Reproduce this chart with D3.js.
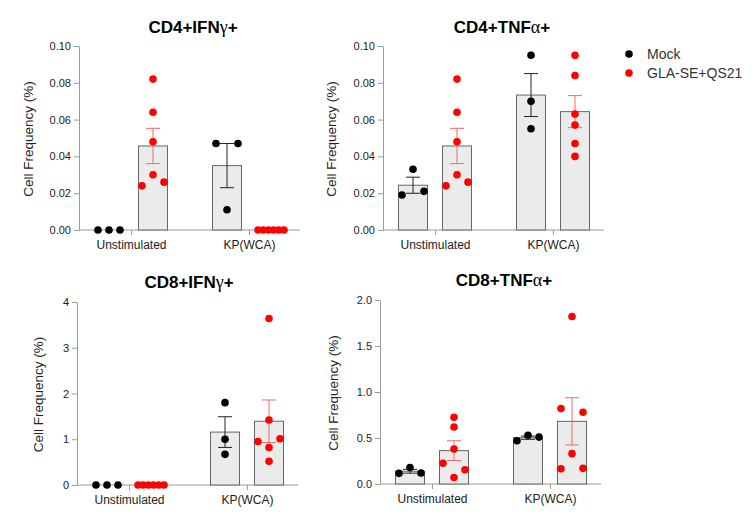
<!DOCTYPE html>
<html><head><meta charset="utf-8">
<script src="https://cdn.jsdelivr.net/npm/d3@7"></script>
<style>body{margin:0;background:#fff}svg{font-family:"Liberation Sans",Arial,sans-serif}</style>
</head><body><svg id="c" width="755" height="525"></svg>
<script>
const categories = ["Unstimulated", "KP(WCA)"];
const groups = ["Mock", "GLA-SE+QS21"];
// values per category: [Unstimulated, KP(WCA)]
const cd4IfngMock = [[0, 0, 0], [0.047, 0.047, 0.011]];
const cd4IfngGla  = [[0.082, 0.064, 0.048, 0.030, 0.024, 0.026], [0, 0, 0, 0, 0, 0]];
const cd4TnfaMock = [[0.019, 0.033, 0.021], [0.095, 0.070, 0.055]];
const cd4TnfaGla  = [[0.082, 0.064, 0.048, 0.030, 0.024, 0.026], [0.095, 0.084, 0.063, 0.057, 0.047, 0.040]];
const cd8IfngMock = [[0, 0, 0], [1.80, 1.00, 0.67]];
const cd8IfngGla  = [[0, 0, 0, 0, 0, 0], [3.64, 1.42, 0.95, 1.01, 0.82, 0.52]];
const cd8TnfaMock = [[0.116, 0.18, 0.12], [0.47, 0.53, 0.51]];
const cd8TnfaGla  = [[0.725, 0.62, 0.38, 0.225, 0.155, 0.07], [1.82, 0.82, 0.78, 0.33, 0.165, 0.17]];
const ticksCd4 = [0, 0.02, 0.04, 0.06, 0.08, 0.10];
const ticksCd8Ifng = [0, 1, 2, 3, 4];
const ticksCd8Tnfa = [0, 0.5, 1.0, 1.5, 2.0];
const titles = [["CD4+IFN", "γ", "+"], ["CD4+TNF", "α", "+"], ["CD8+IFN", "γ", "+"], ["CD8+TNF", "α", "+"]];

const colors = {"Mock": "#000000", "GLA-SE+QS21": "#ff0000"};
const errColors = {"Mock": "#222222", "GLA-SE+QS21": "#ee6a6a"};

const panels = [
  {t: titles[0], mock: cd4IfngMock, gla: cd4IfngGla, max: 0.1, ticks: ticksCd4, fmt: ".2f", x0: 79, yTop: 46, yBot: 230, labelX: 33, titleX: 193, titleY: 33},
  {t: titles[1], mock: cd4TnfaMock, gla: cd4TnfaGla, max: 0.1, ticks: ticksCd4, fmt: ".2f", x0: 383, yTop: 46, yBot: 230, labelX: 336, titleX: 502, titleY: 33},
  {t: titles[2], mock: cd8IfngMock, gla: cd8IfngGla, max: 4, ticks: ticksCd8Ifng, fmt: "d", x0: 77, yTop: 302, yBot: 485, labelX: 43, titleX: 189, titleY: 288},
  {t: titles[3], mock: cd8TnfaMock, gla: cd8TnfaGla, max: 2, ticks: ticksCd8Tnfa, fmt: ".1f", x0: 380, yTop: 300, yBot: 484, labelX: 338, titleX: 504, titleY: 286}
];

const svg = d3.select("#c");
const R = 3.8;

function scatterOffsets(vals, y) {
  const idx = vals.map((v, i) => i).sort((a, b) => vals[b] - vals[a] || a - b);
  const rows = [];
  let cur = null;
  idx.forEach(i => {
    const py = y(vals[i]);
    if (cur && Math.abs(py - cur.p) < 7.1) cur.m.push(i);
    else { cur = {p: py, m: [i]}; rows.push(cur); }
  });
  const off = [];
  rows.forEach(r => {
    r.m.sort((a, b) => a - b);
    const n = r.m.length;
    let o;
    if (n === 1) o = [0];
    else if (n === 2) o = [-11, 11];
    else { const s = Math.min(11, 26 / (n - 1)); o = r.m.map((_, k) => (k - (n - 1) / 2) * s); }
    r.m.forEach((i, k) => off[i] = o[k]);
  });
  return off;
}

panels.forEach(p => {
  const g = svg.append("g");
  const y = d3.scaleLinear().domain([0, p.max]).range([p.yBot, p.yTop]);
  const x = d3.scalePoint().domain(categories).range([p.x0 + 52, p.x0 + 170]);
  const sub = d3.scalePoint().domain(groups).range([-22, 22]);
  const bw = 29;

  // y axis
  const ya = g.append("g").attr("transform", `translate(${p.x0},0)`)
    .call(d3.axisLeft(y).tickValues(p.ticks).tickFormat(d3.format(p.fmt)).tickSize(5).tickSizeOuter(0).tickPadding(3));
  ya.select(".domain").attr("stroke", "#9a9a9a");
  ya.selectAll(".tick line").attr("stroke", "#9a9a9a");
  ya.selectAll(".tick text").attr("font-size", 11).attr("fill", "#222").attr("font-family", "Liberation Sans, Arial");

  // x axis
  const xa = g.append("g").attr("transform", `translate(0,${p.yBot})`)
    .call(d3.axisBottom(x).tickSize(5).tickSizeOuter(0).tickPadding(5));
  xa.select(".domain").remove();
  xa.selectAll(".tick line").attr("stroke", "#9a9a9a");
  xa.selectAll(".tick text").attr("font-size", 12).attr("fill", "#222").attr("font-family", "Liberation Sans, Arial");
  g.append("line").attr("x1", p.x0).attr("x2", p.x0 + 221).attr("y1", p.yBot).attr("y2", p.yBot)
    .attr("stroke", "#9a9a9a");

  const series = [];
  categories.forEach((c, ci) => {
    series.push({c, grp: "Mock", vals: p.mock[ci]});
    series.push({c, grp: "GLA-SE+QS21", vals: p.gla[ci]});
  });

  series.forEach(s => {
    const cx = x(s.c) + sub(s.grp);
    const m = d3.mean(s.vals);
    const sem = (d3.deviation(s.vals) || 0) / Math.sqrt(s.vals.length);
    if (m > 0) {
      g.append("rect").attr("x", cx - bw / 2).attr("y", y(m)).attr("width", bw).attr("height", y(0) - y(m))
        .attr("fill", "#ebebeb").attr("stroke", "#666").attr("stroke-width", 1);
    }
    if (sem > 0) {
      const ec = errColors[s.grp];
      g.append("line").attr("x1", cx).attr("x2", cx).attr("y1", y(m - sem)).attr("y2", y(m + sem)).attr("stroke", ec);
      [m - sem, m + sem].forEach(v => {
        g.append("line").attr("x1", cx - 7).attr("x2", cx + 7).attr("y1", y(v)).attr("y2", y(v)).attr("stroke", ec);
      });
    }
    const off = scatterOffsets(s.vals, y);
    g.selectAll(null).data(s.vals).enter().append("circle")
      .attr("cx", (d, i) => cx + off[i]).attr("cy", d => y(d)).attr("r", R)
      .attr("fill", colors[s.grp]);
  });

  // y label
  g.append("text").attr("transform", `translate(${p.labelX},${(p.yTop + p.yBot) / 2 + 1}) rotate(-90)`)
    .attr("text-anchor", "middle").attr("font-size", 13.5).attr("fill", "#222").text("Cell Frequency (%)");

  // title
  const tt = g.append("text").attr("x", p.titleX).attr("y", p.titleY).attr("text-anchor", "middle")
    .attr("font-size", 17).attr("font-weight", "bold").attr("fill", "#000");
  tt.append("tspan").text(p.t[0]);
  tt.append("tspan").attr("font-weight", "normal").attr("font-family", "Liberation Serif, serif").attr("font-size", 18).text(p.t[1]);
  tt.append("tspan").text(p.t[2]);
});

// legend
const lg = svg.append("g");
groups.forEach((grp, i) => {
  lg.append("circle").attr("cx", 629).attr("cy", 54 + i * 19).attr("r", R).attr("fill", colors[grp]);
  lg.append("text").attr("x", 647).attr("y", 54 + i * 19 + 5).attr("font-size", 14).attr("fill", "#333").text(grp);
});
</script></body></html>
